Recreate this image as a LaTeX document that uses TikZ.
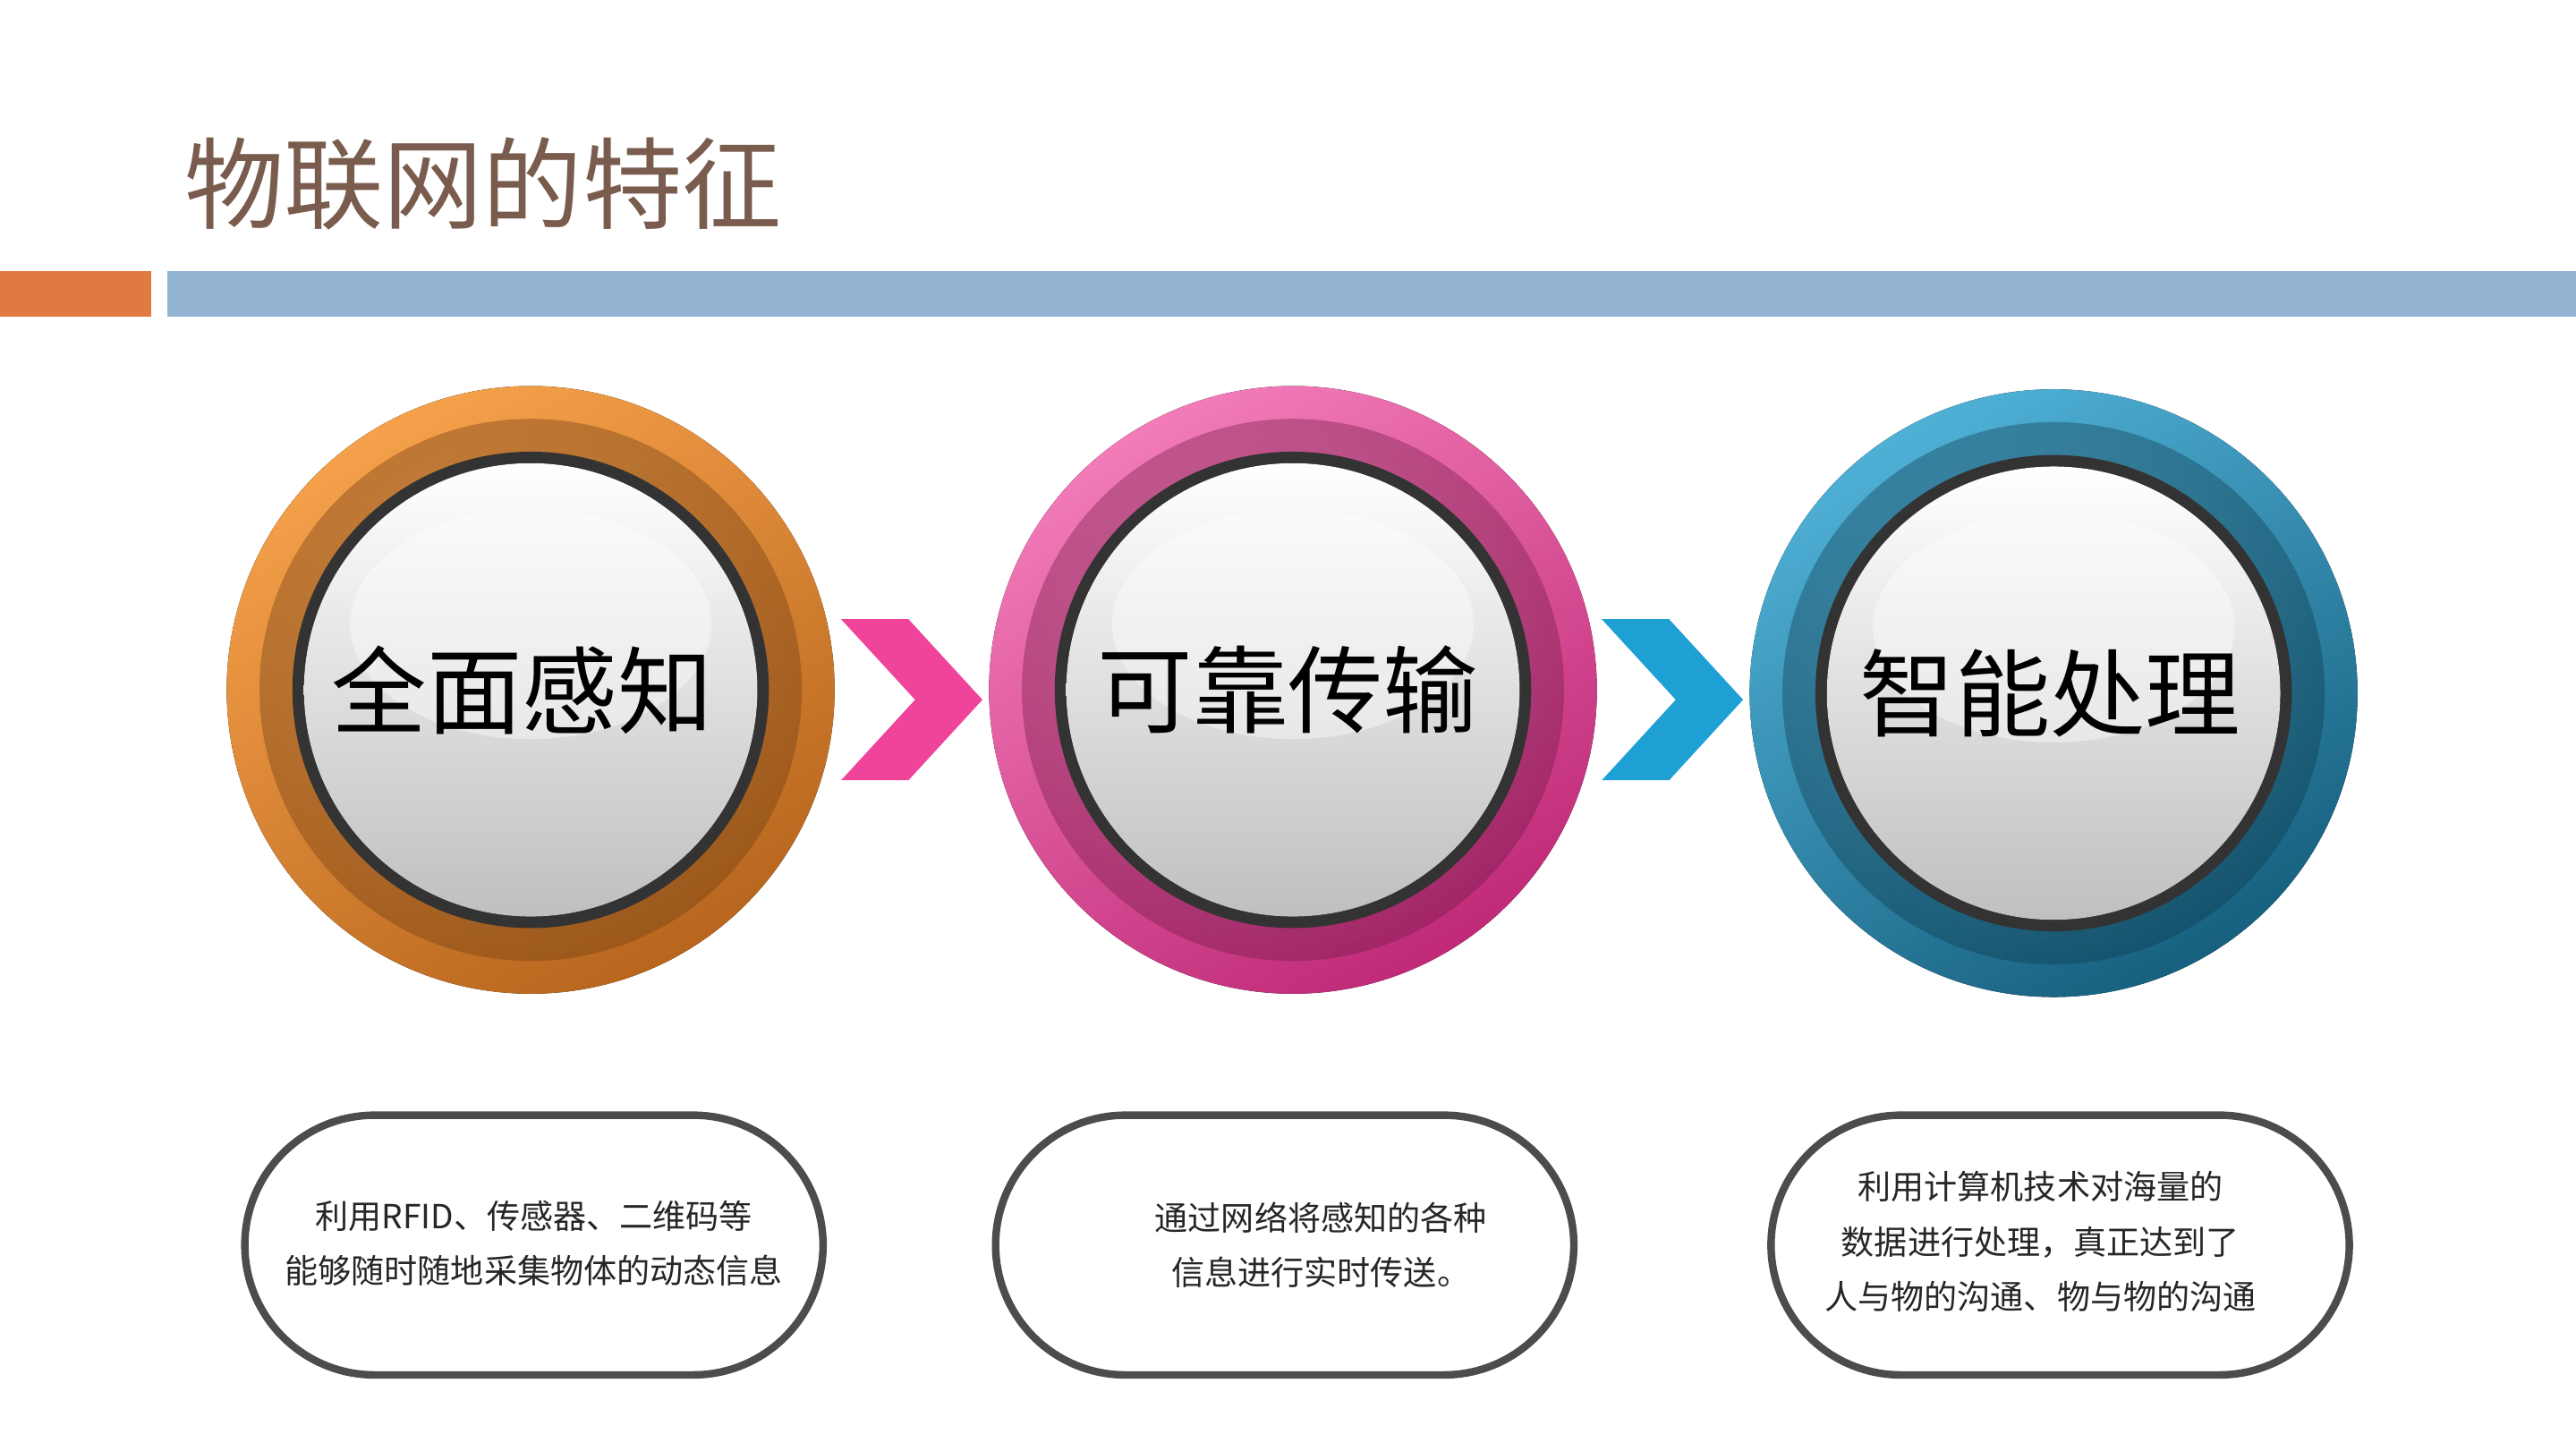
\documentclass[tikz,border=0pt]{standalone}
\usepackage{fontspec}
\newfontfamily\cjk{Noto Sans CJK SC}
\usetikzlibrary{shapes.misc}
\definecolor{titlec}{HTML}{7A5C4E}
\definecolor{orbar}{HTML}{E07A40}
\definecolor{blbar}{HTML}{93B3D3}
\definecolor{orA}{HTML}{F5A04A}
\definecolor{orB}{HTML}{B8661E}
\definecolor{pkA}{HTML}{F27BB8}
\definecolor{pkB}{HTML}{C02A78}
\definecolor{buA}{HTML}{4FB0D6}
\definecolor{buB}{HTML}{17607F}
\definecolor{chevp}{HTML}{F0449A}
\definecolor{chevb}{HTML}{1FA0D4}
\tikzset{
 bigtxt/.style={font=\cjk\fontsize{33}{36}\selectfont, text=black},
 smalltxt/.style={font=\cjk\fontsize{11.5}{19}\selectfont, text=black!85, align=center},
 pill/.style={draw=black!70, line width=2.6pt, rounded rectangle, minimum width=207pt, minimum height=90pt, fill=white},
}
\newcommand{\featcircle}[5]{% name, x, y, colA, colB
 \fill[top color=#4, bottom color=#5, shading angle=30] (#2,#3) circle (185);
 \fill[inner color=#4!60, outer color=#5, opacity=0.2] (#2,#3) circle (165);
 \fill[black!80] (#2,#3) circle (145);
 \fill[top color=white, bottom color=black!25] (#2,#3) circle (138);
 \fill[white, opacity=0.4] (#2,#3-40) ellipse (110 and 70);
 \coordinate (#1) at (#2,#3);
}
\begin{document}
\begin{tikzpicture}[x=0.02cm,y=-0.02cm]
\useasboundingbox (0,0) rectangle (1568,883);
\fill[white] (0,0) rectangle (1568,883);
\node[anchor=west, font=\cjk\fontsize{34.5}{36}\selectfont, text=titlec] (title) at (106,112) {物联网的特征};
\fill[orbar] (0,165) rectangle (92,193);
\fill[blbar] (102,165) rectangle (1568,193);
\featcircle{c1}{323}{420}{orA}{orB}
\featcircle{c2}{787}{420}{pkA}{pkB}
\featcircle{c3}{1250}{422}{buA}{buB}
\node[bigtxt] (t1) at (318,420) {全面感知};
\node[bigtxt] (t2) at (784,420) {可靠传输};
\node[bigtxt] (t3) at (1248,422) {智能处理};
\fill[chevp] (512,377) -- (553,377) -- (598,426) -- (553,475) -- (512,475) -- (557,426) -- cycle;
\fill[chevb] (975,377) -- (1016,377) -- (1061,426) -- (1016,475) -- (975,475) -- (1020,426) -- cycle;
\node[pill] (p1) at (325,758) {};
\node[pill] (p2) at (782,758) {};
\node[pill] (p3) at (1254,758) {};
\node[smalltxt] (d1) at (325,757) {利用RFID、传感器、二维码等\\能够随时随地采集物体的动态信息};
\node[smalltxt] (d2) at (804,758) {通过网络将感知的各种\\信息进行实时传送。};
\node[smalltxt] (d3) at (1242,756) {利用计算机技术对海量的\\数据进行处理，真正达到了\\人与物的沟通、物与物的沟通};
\end{tikzpicture}
\end{document}
